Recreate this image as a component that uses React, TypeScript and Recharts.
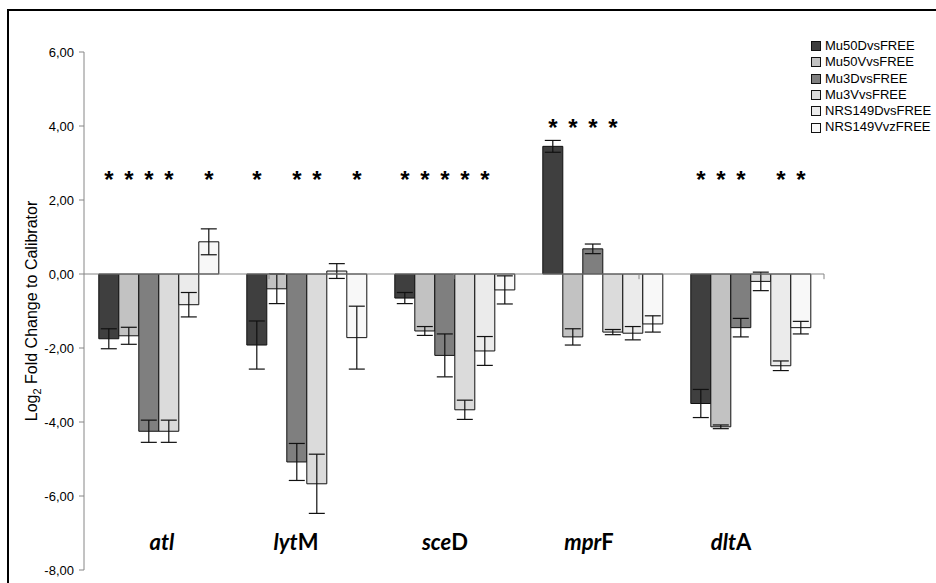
import React from 'react';
import { BarChart, Bar, XAxis, YAxis, ErrorBar, ReferenceLine, LabelList } from 'recharts';

const categories = ['atl', 'lytM', 'sceD', 'mprF', 'dltA'];
const italicParts = ['atl', 'lyt', 'sce', 'mpr', 'dlt'];
// labels in the original sit a little off the category centres
const labelShift = [4, -10, -9, -13, -19];

const seriesNames = ['Mu50DvsFREE', 'Mu50VvsFREE', 'Mu3DvsFREE', 'Mu3VvsFREE', 'NRS149DvsFREE', 'NRS149VvzFREE'];
const seriesColors = ['#3f3f3f', '#c2c2c2', '#7f7f7f', '#dbdbdb', '#ebebeb', '#f8f8f8'];

const mu50D = [-1.75, -1.92, -0.65, 3.45, -3.5];
const mu50V = [-1.67, -0.4, -1.54, -1.7, -4.13];
const mu3D = [-4.25, -5.08, -2.2, 0.68, -1.45];
const mu3V = [-4.25, -5.67, -3.67, -1.57, -0.2];
const nrsD = [-0.83, 0.08, -2.08, -1.6, -2.48];
const nrsV = [0.87, -1.72, -0.43, -1.35, -1.45];

const mu50DErr = [0.27, 0.65, 0.15, 0.16, 0.38];
const mu50VErr = [0.23, 0.4, 0.12, 0.22, 0.05];
const mu3DErr = [0.3, 0.5, 0.58, 0.13, 0.25];
const mu3VErr = [0.3, 0.8, 0.26, 0.07, 0.25];
const nrsDErr = [0.33, 0.2, 0.39, 0.18, 0.13];
const nrsVErr = [0.35, 0.85, 0.38, 0.22, 0.17];

// significance asterisks (1 = star above that bar)
const mu50DSig = [1, 1, 1, 1, 1];
const mu50VSig = [1, 0, 1, 1, 1];
const mu3DSig = [1, 1, 1, 1, 1];
const mu3VSig = [1, 1, 1, 1, 0];
const nrsDSig = [0, 0, 1, 0, 1];
const nrsVSig = [1, 1, 0, 0, 1];
const starLevels = [2.68, 2.68, 2.68, 4.08, 2.68];

const yTicks = [-8, -6, -4, -2, 0, 2, 4, 6];
const boundaries = [1, 2, 3, 4, 5];

const values = [mu50D, mu50V, mu3D, mu3V, nrsD, nrsV];
const errors = [mu50DErr, mu50VErr, mu3DErr, mu3VErr, nrsDErr, nrsVErr];
const sigs = [mu50DSig, mu50VSig, mu3DSig, mu3VSig, nrsDSig, nrsVSig];

const rows = categories.map((name, i) => {
  const row: any = { name, star: starLevels[i] };
  values.forEach((v, k) => {
    row['s' + k] = v[i];
    row['e' + k] = errors[k][i];
    row['g' + k] = sigs[k][i];
  });
  return row;
});

const W = 936;
const H = 583;
const M = { top: 52, right: 112, bottom: 13, left: 0 };
const Y_MIN = -8;
const Y_MAX = 6;
const yOf = (v: number) => M.top + ((Y_MAX - v) / (Y_MAX - Y_MIN)) * (H - M.top - M.bottom);

const FONT = '"Liberation Sans", Arial, sans-serif';

const Star = (props: any) => {
  const v = props.value;
  if (v === null || v === undefined) return null;
  const vb = props.viewBox || props;
  const cx = vb.x + vb.width / 2;
  return (
    <text x={cx} y={yOf(v) + 13} textAnchor="middle" fontSize={24} fontWeight="bold" fontFamily={FONT} fill="#000">
      *
    </text>
  );
};

const CatTick = (props: any) => {
  const { x, payload, index } = props;
  const name = payload.value as string;
  const it = italicParts[index] ?? name;
  const rest = name.slice(it.length);
  return (
    <text x={x + (labelShift[index] ?? 0)} y={yOf(-7.45)} textAnchor="middle" fontSize={22} fontWeight="bold" fontFamily="Lato, sans-serif" fill="#000">
      <tspan fontStyle="italic">{it}</tspan>
      {rest ? <tspan>{rest}</tspan> : null}
    </text>
  );
};

const YTitle = (props: any) => {
  const vb = props.viewBox;
  const cx = vb.x + 37;
  const cy = vb.y + vb.height / 2;
  return (
    <text x={cx} y={cy} transform={`rotate(-90 ${cx} ${cy})`} textAnchor="middle" fontSize={16} fontFamily={FONT} fill="#000">
      Log<tspan fontSize={11} dy={4}>2</tspan><tspan dy={-4}> Fold Change to Calibrator</tspan>
    </text>
  );
};

const fmt = (v: number) => v.toFixed(2).replace('.', ',');

export default function App() {
  return (
    <div style={{ position: 'absolute', left: 0, top: 0, width: W, height: H, background: '#fff', overflow: 'hidden' }}>
      <div style={{ position: 'absolute', left: 7, top: 9, width: W, height: H, border: '2px solid #000' }} />
      <div style={{ position: 'absolute', left: 0, top: 0 }}>
        <BarChart width={W} height={H} data={rows} margin={M} barCategoryGap="10%" barGap={0}>
          <XAxis dataKey="name" mirror axisLine={false} tickLine={false} tickSize={0} tickMargin={0} tick={<CatTick />} interval={0} />
          <XAxis xAxisId="grid" type="number" domain={[0, 5]} hide />
          <YAxis
            width={84}
            domain={[Y_MIN, Y_MAX]}
            ticks={yTicks}
            interval={0}
            tickFormatter={fmt}
            axisLine={{ stroke: '#868686' }}
            tickLine={{ stroke: '#868686' }}
            tickSize={5}
            tickMargin={5}
            tick={{ fontSize: 13, fontFamily: FONT, fill: '#000' }}
            label={{ content: <YTitle /> }}
          />
          {values.map((_, k) => (
            <Bar key={k} dataKey={'s' + k} name={seriesNames[k]} fill={seriesColors[k]} stroke="#111" strokeWidth={1} isAnimationActive={false}>
              <ErrorBar dataKey={'e' + k} width={8} stroke="#111" strokeWidth={1.2} direction="y" />
              <LabelList dataKey={(d: any) => (d['g' + k] ? d.star : null)} content={<Star />} />
            </Bar>
          ))}
          <ReferenceLine y={0} stroke="#868686" strokeWidth={1} />
          {boundaries.map((b) => (
            <ReferenceLine
              key={b}
              xAxisId="grid"
              segment={[{ x: b, y: 0 }, { x: b, y: -0.14 }]}
              stroke="#868686"
              strokeWidth={1}
            />
          ))}
        </BarChart>
      </div>
      <div style={{ position: 'absolute', left: 811, top: 38, fontFamily: FONT, fontSize: 13, lineHeight: '16.3px', color: '#000' }}>
        {seriesNames.map((n, k) => (
          <div key={n} style={{ display: 'flex', alignItems: 'center', whiteSpace: 'nowrap' }}>
            <span style={{ display: 'inline-block', width: 8, height: 8, border: '1px solid #111', background: seriesColors[k], marginRight: 4 }} />
            {n}
          </div>
        ))}
      </div>
    </div>
  );
}
